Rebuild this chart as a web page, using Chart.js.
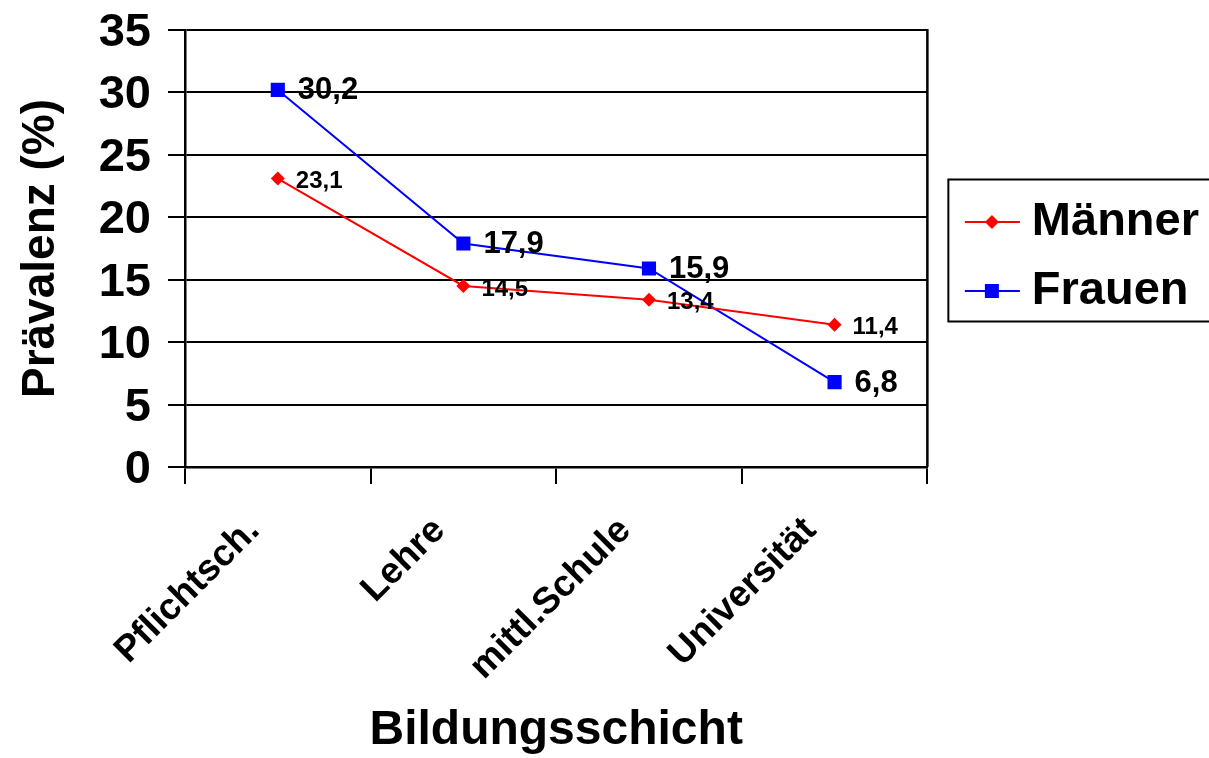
<!DOCTYPE html>
<html><head><meta charset="utf-8">
<script src="https://cdn.jsdelivr.net/npm/chart.js@4.4.0/dist/chart.umd.min.js"></script>
<style>html,body{margin:0;padding:0;background:#fff;}#wrap{width:1209px;height:758px;}</style>
</head><body><div id="wrap"><canvas id="c" width="1209" height="758"></canvas></div>
<script>
const categories = ['Pflichtsch.', 'Lehre', 'mittl.Schule', 'Universität'];
const maenner = [23.1, 14.5, 13.4, 11.4];
const frauen = [30.2, 17.9, 15.9, 6.8];
const seriesNames = ['Männer', 'Frauen'];
const yTickValues = [0, 5, 10, 15, 20, 25, 30, 35];
const yTitle = 'Prävalenz (%)';
const xTitle = 'Bildungsschicht';

const FONT = "'Liberation Sans', Arial, sans-serif";
const LEGEND_PAD = 22;

function legendIcon(color, kind) {
  const c = document.createElement('canvas');
  c.width = 84; c.height = 20;
  const g = c.getContext('2d');
  g.strokeStyle = color; g.lineWidth = 2;
  g.beginPath(); g.moveTo(28, 10); g.lineTo(83, 10); g.stroke();
  g.fillStyle = color;
  const m = 55;
  if (kind === 'diamond') {
    g.beginPath(); g.moveTo(m - 7, 10); g.lineTo(m, 3); g.lineTo(m + 7, 10); g.lineTo(m, 17); g.closePath(); g.fill();
  } else {
    g.fillRect(m - 7, 3, 14, 14);
  }
  return c;
}
const icons = [legendIcon('#ff0000', 'diamond'), legendIcon('#0000ff', 'square')];

const dataLabelPlugin = {
  id: 'dataLabels',
  afterDatasetsDraw(chart) {
    const ctx = chart.ctx;
    const styles = [{size: 24, dx: 18, dy: 3}, {size: 31, dx: 20, dy: 1}];
    chart.data.datasets.forEach((ds, i) => {
      const meta = chart.getDatasetMeta(i);
      const st = styles[i];
      ctx.save();
      ctx.font = 'bold ' + st.size + 'px ' + FONT;
      ctx.fillStyle = '#000';
      ctx.textAlign = 'left';
      ctx.textBaseline = 'middle';
      meta.data.forEach((pt, j) => {
        ctx.fillText(String(ds.data[j]).replace('.', ','), pt.x + st.dx, pt.y + st.dy);
      });
      ctx.restore();
    });
  }
};

const legendPlacePlugin = {
  id: 'legendPlace',
  afterLayout(chart) {
    const lg = chart.legend;
    if (!lg) return;
    lg.top = chart.chartArea.top + 8;
    lg.bottom = chart.chartArea.bottom + 8;
  }
};

const framePlugin = {
  id: 'frame',
  afterDraw(chart) {
    const ctx = chart.ctx;
    const a = chart.chartArea;
    ctx.save();
    ctx.strokeStyle = '#000';
    ctx.lineWidth = 2.5;
    ctx.beginPath(); ctx.moveTo(a.right, a.top - 1); ctx.lineTo(a.right, a.bottom); ctx.stroke();
    const lg = chart.legend;
    if (lg && lg.columnSizes && lg.columnSizes.length) {
      const colH = lg.columnSizes[0].height;
      const itemsTop = (lg.top + LEGEND_PAD + lg.bottom - colH) / 2;
      const top = itemsTop - 19;
      const bottom = itemsTop + colH - LEGEND_PAD + 7;
      const left = lg.left + LEGEND_PAD - 1;
      ctx.lineWidth = 2;
      ctx.strokeRect(left, top, chart.width + 10 - left, bottom - top);
    }
    ctx.restore();
  }
};

new Chart(document.getElementById('c'), {
  type: 'line',
  data: {
    labels: categories,
    datasets: [
      {label: seriesNames[0], data: maenner, borderColor: '#ff0000', backgroundColor: '#ff0000', borderWidth: 2,
       pointStyle: 'rectRot', pointRadius: 7, pointHoverRadius: 7, pointBorderWidth: 0, tension: 0},
      {label: seriesNames[1], data: frauen, borderColor: '#0000ff', backgroundColor: '#0000ff', borderWidth: 2,
       pointStyle: 'rect', pointRadius: 10, pointHoverRadius: 10, pointBorderWidth: 0, tension: 0}
    ]
  },
  options: {
    responsive: false,
    animation: false,
    devicePixelRatio: 1,
    layout: {padding: {top: 30, right: 0, bottom: 0, left: 0}},
    plugins: {
      tooltip: {enabled: false},
      legend: {
        display: true,
        position: 'right',
        labels: {
          usePointStyle: true,
          pointStyleWidth: 59,
          padding: LEGEND_PAD,
          color: '#000',
          font: {family: FONT, size: 47, weight: 'bold'},
          generateLabels(chart) {
            const items = Chart.defaults.plugins.legend.labels.generateLabels(chart);
            items.forEach((it, i) => { it.pointStyle = icons[i]; });
            return items;
          }
        }
      }
    },
    scales: {
      x: {
        type: 'category',
        offset: true,
        grid: {display: true, offset: true, drawOnChartArea: false, color: '#000', lineWidth: 2, tickLength: 17},
        border: {display: true, color: '#000', width: 2.5},
        ticks: {color: '#000', font: {family: FONT, size: 37, weight: 'bold'}, minRotation: 45, maxRotation: 45, padding: 25, labelOffset: -24, autoSkip: false},
        title: {display: true, text: xTitle, color: '#000', font: {family: FONT, size: 48, weight: 'bold'}, padding: {top: 0, bottom: -2}},
        afterFit(scale) { scale.height = 291; }
      },
      y: {
        min: yTickValues[0],
        max: yTickValues[yTickValues.length - 1],
        afterBuildTicks(scale) { scale.ticks = yTickValues.map(v => ({value: v})); },
        grid: {color: '#000', lineWidth: 2, tickLength: 17},
        border: {display: true, color: '#000', width: 2.5},
        ticks: {color: '#000', font: {family: FONT, size: 47, weight: 'bold'}, padding: 17, labelOffset: 3},
        title: {display: true, text: yTitle, color: '#000', font: {family: FONT, size: 46, weight: 'bold'}, padding: {top: 14, bottom: 0}},
        afterFit(scale) { scale.width = 185; scale.paddingTop = 0; scale.paddingBottom = 0; }
      }
    }
  },
  plugins: [dataLabelPlugin, legendPlacePlugin, framePlugin]
});
</script>
</body></html>
